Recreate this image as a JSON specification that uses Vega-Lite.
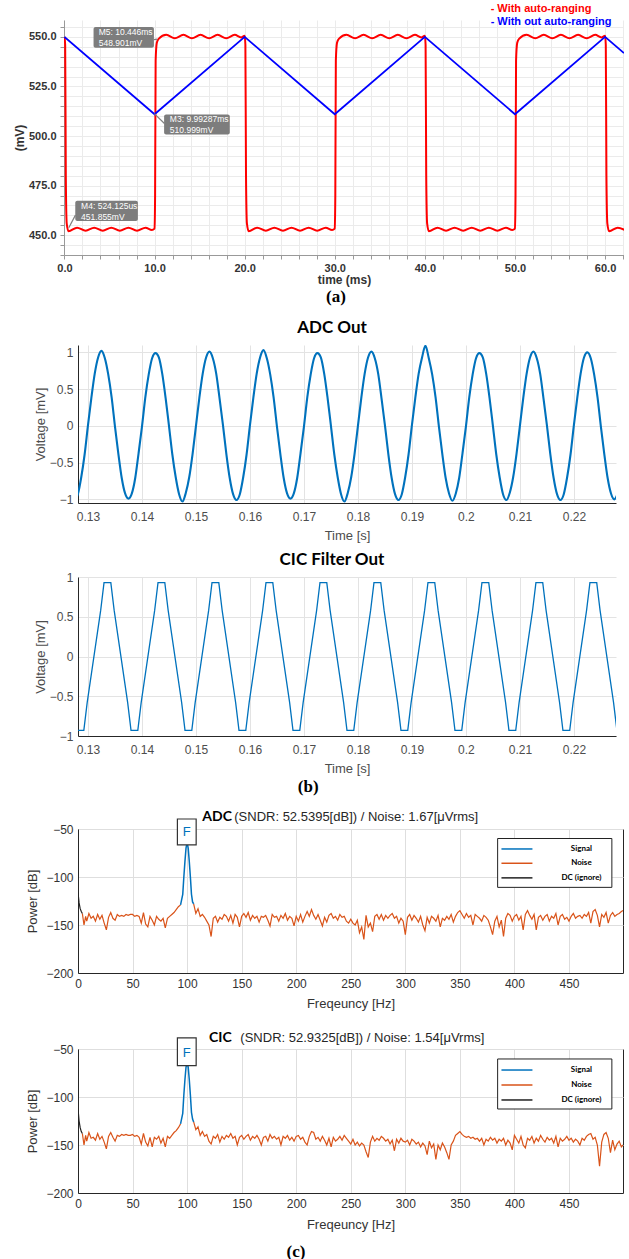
{
"$schema": "https://vega.github.io/schema/vega-lite/v6.json",
"padding": {"left": 13, "top": 3, "right": 0, "bottom": 0},
"background": "white",
"config": {"font": "Liberation Sans", "view": {"stroke": null}},
"datasets": {
"red": [{"x":0,"y":550},{"x":0.08,"y":546},{"x":0.15,"y":480},{"x":0.25,"y":456},{"x":0.45,"y":452},{"x":1.4,"y":453.8},{"x":2.35,"y":452.2},{"x":3.3,"y":453.8},{"x":4.25,"y":452.2},{"x":5.2,"y":453.8},{"x":6.15,"y":452.2},{"x":7.1,"y":453.8},{"x":8.05,"y":452.2},{"x":9.0,"y":453.8},{"x":9.7,"y":452.6},{"x":10.0,"y":453.3},{"x":10.06,"y":470},{"x":10.12,"y":538},{"x":10.25,"y":547},{"x":10.45,"y":549},{"x":11.3,"y":551},{"x":12.25,"y":549.3},{"x":13.2,"y":551},{"x":14.15,"y":549.3},{"x":15.1,"y":551},{"x":16.05,"y":549.3},{"x":17.0,"y":551},{"x":17.95,"y":549.3},{"x":18.9,"y":551},{"x":19.6,"y":549.7},{"x":20.0,"y":550.5},
{"x":20.08,"y":546},{"x":20.15,"y":480},{"x":20.25,"y":456},{"x":20.45,"y":452},{"x":21.4,"y":453.8},{"x":22.35,"y":452.2},{"x":23.3,"y":453.8},{"x":24.25,"y":452.2},{"x":25.2,"y":453.8},{"x":26.15,"y":452.2},{"x":27.1,"y":453.8},{"x":28.05,"y":452.2},{"x":29.0,"y":453.8},{"x":29.7,"y":452.6},{"x":30.0,"y":453.3},{"x":30.06,"y":470},{"x":30.12,"y":538},{"x":30.25,"y":547},{"x":30.45,"y":549},{"x":31.3,"y":551},{"x":32.25,"y":549.3},{"x":33.2,"y":551},{"x":34.15,"y":549.3},{"x":35.1,"y":551},{"x":36.05,"y":549.3},{"x":37.0,"y":551},{"x":37.95,"y":549.3},{"x":38.9,"y":551},{"x":39.6,"y":549.7},{"x":40.0,"y":550.5},
{"x":40.08,"y":546},{"x":40.15,"y":480},{"x":40.25,"y":456},{"x":40.45,"y":452},{"x":41.4,"y":453.8},{"x":42.35,"y":452.2},{"x":43.3,"y":453.8},{"x":44.25,"y":452.2},{"x":45.2,"y":453.8},{"x":46.15,"y":452.2},{"x":47.1,"y":453.8},{"x":48.05,"y":452.2},{"x":49.0,"y":453.8},{"x":49.7,"y":452.6},{"x":50.0,"y":453.3},{"x":50.06,"y":470},{"x":50.12,"y":538},{"x":50.25,"y":547},{"x":50.45,"y":549},{"x":51.3,"y":551},{"x":52.25,"y":549.3},{"x":53.2,"y":551},{"x":54.15,"y":549.3},{"x":55.1,"y":551},{"x":56.05,"y":549.3},{"x":57.0,"y":551},{"x":57.95,"y":549.3},{"x":58.9,"y":551},{"x":59.6,"y":549.7},{"x":60.0,"y":550.5},
{"x":60.08,"y":546},{"x":60.15,"y":480},{"x":60.25,"y":456},{"x":60.45,"y":452},{"x":61.4,"y":453.8},{"x":62.35,"y":452.2}],
"blue": [{"x":0,"y":550},{"x":10,"y":511},{"x":20,"y":550},{"x":30,"y":511},{"x":40,"y":550},{"x":50,"y":511},{"x":60,"y":550},{"x":62.1,"y":541.8}],
"mbox": [{"x":3.23,"x2":9.93,"y":544.5,"y2":555.0},{"x":11.06,"x2":18.35,"y":500.8,"y2":510.8},{"x":1.2,"x2":8.15,"y":457.1,"y2":467.3}],
"mlead": [{"x":9.93,"x2":10.3,"y":548.6,"y2":548.9},{"x":9.97,"x2":11.1,"y":511.3,"y2":506.3},{"x":0.48,"x2":1.22,"y":453.7,"y2":460.1}],
"mtext": [{"x":3.8,"y":552.4,"s":"M5: 10.446ms"},{"x":3.8,"y":547.1,"s":"548.901mV"},{"x":11.7,"y":508.4,"s":"M3: 9.99287ms"},{"x":11.7,"y":503.0,"s":"510.999mV"},{"x":1.85,"y":464.6,"s":"M4: 524.125us"},{"x":1.85,"y":459.4,"s":"451.855mV"}],
"aleg": [{"x":47.3,"y":563.9,"s":"- With auto-ranging","c":"#ff0000"},{"x":47.3,"y":557.6,"s":"- With out auto-ranging","c":"#0000ff"}],
"adc": [{"x":0.1275,"y":-1.01},{"x":0.128125,"y":-0.93},{"x":0.12875,"y":-0.70},{"x":0.129375,"y":-0.39},{"x":0.13,"y":0.01},{"x":0.130625,"y":0.38},{"x":0.13125,"y":0.71},{"x":0.131875,"y":0.93},{"x":0.1325,"y":1.02},{"x":0.133125,"y":0.92},{"x":0.13375,"y":0.70},{"x":0.134375,"y":0.39},{"x":0.135,"y":-0.01},{"x":0.135625,"y":-0.38},{"x":0.13625,"y":-0.71},{"x":0.136875,"y":-0.92},
{"x":0.1375,"y":-0.99},{"x":0.138125,"y":-0.92},{"x":0.13875,"y":-0.71},{"x":0.139375,"y":-0.37},{"x":0.14,"y":-0.01},{"x":0.140625,"y":0.39},{"x":0.14125,"y":0.70},{"x":0.141875,"y":0.92},{"x":0.1425,"y":0.99},{"x":0.143125,"y":0.93},{"x":0.14375,"y":0.71},{"x":0.144375,"y":0.38},{"x":0.145,"y":0.00},{"x":0.145625,"y":-0.39},{"x":0.14625,"y":-0.70},{"x":0.146875,"y":-0.93},
{"x":0.1475,"y":-1.03},{"x":0.148125,"y":-0.91},{"x":0.14875,"y":-0.70},{"x":0.149375,"y":-0.38},{"x":0.15,"y":0.00},{"x":0.150625,"y":0.38},{"x":0.15125,"y":0.71},{"x":0.151875,"y":0.93},{"x":0.1525,"y":1.01},{"x":0.153125,"y":0.92},{"x":0.15375,"y":0.71},{"x":0.154375,"y":0.37},{"x":0.155,"y":0.01},{"x":0.155625,"y":-0.38},{"x":0.15625,"y":-0.71},{"x":0.156875,"y":-0.93},
{"x":0.1575,"y":-1.01},{"x":0.158125,"y":-0.93},{"x":0.15875,"y":-0.70},{"x":0.159375,"y":-0.39},{"x":0.16,"y":0.01},{"x":0.160625,"y":0.38},{"x":0.16125,"y":0.71},{"x":0.161875,"y":0.93},{"x":0.1625,"y":1.03},{"x":0.163125,"y":0.92},{"x":0.16375,"y":0.70},{"x":0.164375,"y":0.39},{"x":0.165,"y":-0.01},{"x":0.165625,"y":-0.38},{"x":0.16625,"y":-0.71},{"x":0.166875,"y":-0.92},
{"x":0.1675,"y":-0.99},{"x":0.168125,"y":-0.92},{"x":0.16875,"y":-0.71},{"x":0.169375,"y":-0.37},{"x":0.17,"y":-0.01},{"x":0.170625,"y":0.39},{"x":0.17125,"y":0.70},{"x":0.171875,"y":0.92},{"x":0.1725,"y":0.99},{"x":0.173125,"y":0.93},{"x":0.17375,"y":0.71},{"x":0.174375,"y":0.38},{"x":0.175,"y":0.00},{"x":0.175625,"y":-0.39},{"x":0.17625,"y":-0.70},{"x":0.176875,"y":-0.93},
{"x":0.1775,"y":-1.03},{"x":0.178125,"y":-0.91},{"x":0.17875,"y":-0.70},{"x":0.179375,"y":-0.38},{"x":0.18,"y":0.00},{"x":0.180625,"y":0.38},{"x":0.18125,"y":0.71},{"x":0.181875,"y":0.93},{"x":0.1825,"y":1.01},{"x":0.183125,"y":0.92},{"x":0.18375,"y":0.71},{"x":0.184375,"y":0.37},{"x":0.185,"y":0.01},{"x":0.185625,"y":-0.38},{"x":0.18625,"y":-0.71},{"x":0.186875,"y":-0.93},
{"x":0.1875,"y":-1.01},{"x":0.188125,"y":-0.93},{"x":0.18875,"y":-0.70},{"x":0.189375,"y":-0.39},{"x":0.19,"y":0.01},{"x":0.190625,"y":0.38},{"x":0.19125,"y":0.71},{"x":0.191875,"y":0.93},{"x":0.1925,"y":1.09},{"x":0.193125,"y":0.92},{"x":0.19375,"y":0.70},{"x":0.194375,"y":0.39},{"x":0.195,"y":-0.01},{"x":0.195625,"y":-0.38},{"x":0.19625,"y":-0.71},{"x":0.196875,"y":-0.92},
{"x":0.1975,"y":-1.02},{"x":0.198125,"y":-0.92},{"x":0.19875,"y":-0.71},{"x":0.199375,"y":-0.37},{"x":0.2,"y":-0.01},{"x":0.200625,"y":0.39},{"x":0.20125,"y":0.70},{"x":0.201875,"y":0.92},{"x":0.2025,"y":0.99},{"x":0.203125,"y":0.93},{"x":0.20375,"y":0.71},{"x":0.204375,"y":0.38},{"x":0.205,"y":0.00},{"x":0.205625,"y":-0.39},{"x":0.20625,"y":-0.70},{"x":0.206875,"y":-0.93},
{"x":0.2075,"y":-1.01},{"x":0.208125,"y":-0.91},{"x":0.20875,"y":-0.70},{"x":0.209375,"y":-0.38},{"x":0.21,"y":0.00},{"x":0.210625,"y":0.38},{"x":0.21125,"y":0.71},{"x":0.211875,"y":0.93},{"x":0.2125,"y":1.01},{"x":0.213125,"y":0.92},{"x":0.21375,"y":0.71},{"x":0.214375,"y":0.37},{"x":0.215,"y":0.01},{"x":0.215625,"y":-0.38},{"x":0.21625,"y":-0.71},{"x":0.216875,"y":-0.93},
{"x":0.2175,"y":-1.01},{"x":0.218125,"y":-0.93},{"x":0.21875,"y":-0.70},{"x":0.219375,"y":-0.39},{"x":0.22,"y":0.01},{"x":0.220625,"y":0.38},{"x":0.22125,"y":0.71},{"x":0.221875,"y":0.93},{"x":0.2225,"y":1.0},{"x":0.223125,"y":0.92},{"x":0.22375,"y":0.70},{"x":0.224375,"y":0.39},{"x":0.225,"y":-0.01},{"x":0.225625,"y":-0.38},{"x":0.22625,"y":-0.71},{"x":0.226875,"y":-0.92},
{"x":0.2275,"y":-1.0},{"x":0.228125,"y":-0.92}],
"cic": [{"x":0.12735,"y":-0.58},{"x":0.12797,"y":-0.93},{"x":0.12923,"y":-0.93},{"x":0.12985,"y":-0.58},{"x":0.13235,"y":0.58},{"x":0.13297,"y":0.93},{"x":0.13423,"y":0.93},{"x":0.13485,"y":0.58},
{"x":0.13735,"y":-0.58},{"x":0.13797,"y":-0.93},{"x":0.13923,"y":-0.93},{"x":0.13985,"y":-0.58},{"x":0.14235,"y":0.58},{"x":0.14297,"y":0.93},{"x":0.14423,"y":0.93},{"x":0.14485,"y":0.58},
{"x":0.14735,"y":-0.58},{"x":0.14797,"y":-0.93},{"x":0.14923,"y":-0.93},{"x":0.14985,"y":-0.58},{"x":0.15235,"y":0.58},{"x":0.15297,"y":0.93},{"x":0.15423,"y":0.93},{"x":0.15485,"y":0.58},
{"x":0.15735,"y":-0.58},{"x":0.15797,"y":-0.93},{"x":0.15923,"y":-0.93},{"x":0.15985,"y":-0.58},{"x":0.16235,"y":0.58},{"x":0.16297,"y":0.93},{"x":0.16423,"y":0.93},{"x":0.16485,"y":0.58},
{"x":0.16735,"y":-0.58},{"x":0.16797,"y":-0.93},{"x":0.16923,"y":-0.93},{"x":0.16985,"y":-0.58},{"x":0.17235,"y":0.58},{"x":0.17297,"y":0.93},{"x":0.17423,"y":0.93},{"x":0.17485,"y":0.58},
{"x":0.17735,"y":-0.58},{"x":0.17797,"y":-0.93},{"x":0.17923,"y":-0.93},{"x":0.17985,"y":-0.58},{"x":0.18235,"y":0.58},{"x":0.18297,"y":0.93},{"x":0.18423,"y":0.93},{"x":0.18485,"y":0.58},
{"x":0.18735,"y":-0.58},{"x":0.18797,"y":-0.93},{"x":0.18923,"y":-0.93},{"x":0.18985,"y":-0.58},{"x":0.19235,"y":0.58},{"x":0.19297,"y":0.93},{"x":0.19423,"y":0.93},{"x":0.19485,"y":0.58},
{"x":0.19735,"y":-0.58},{"x":0.19797,"y":-0.93},{"x":0.19923,"y":-0.93},{"x":0.19985,"y":-0.58},{"x":0.20235,"y":0.58},{"x":0.20297,"y":0.93},{"x":0.20423,"y":0.93},{"x":0.20485,"y":0.58},
{"x":0.20735,"y":-0.58},{"x":0.20797,"y":-0.93},{"x":0.20923,"y":-0.93},{"x":0.20985,"y":-0.58},{"x":0.21235,"y":0.58},{"x":0.21297,"y":0.93},{"x":0.21423,"y":0.93},{"x":0.21485,"y":0.58},
{"x":0.21735,"y":-0.58},{"x":0.21797,"y":-0.93},{"x":0.21923,"y":-0.93},{"x":0.21985,"y":-0.58},{"x":0.22235,"y":0.58},{"x":0.22297,"y":0.93},{"x":0.22423,"y":0.93},{"x":0.22485,"y":0.58},
{"x":0.22735,"y":-0.58},{"x":0.22797,"y":-0.93}],
"adcD": [{"x":0,"y":-116},{"x":1,"y":-127},{"x":2,"y":-133},{"x":3,"y":-136},{"x":4,"y":-138}],
"adcN1": [{"x":4,"y":-138},{"x":5.5,"y":-150},{"x":7,"y":-141},{"x":8,"y":-146},{"x":10,"y":-138},{"x":12,"y":-143},{"x":14,"y":-141},{"x":16,"y":-146},{"x":18,"y":-139},{"x":20,"y":-144},{"x":22,"y":-140},{"x":24,"y":-148},{"x":26,"y":-155},{"x":28,"y":-142},{"x":30,"y":-137},{"x":32,"y":-143},{"x":34,"y":-145},{"x":36,"y":-139},{"x":38,"y":-141},{"x":40,"y":-140},{"x":42,"y":-141},{"x":44,"y":-139},{"x":46,"y":-140},{"x":48,"y":-139},{"x":50,"y":-139},{"x":52,"y":-141},{"x":54,"y":-140},{"x":56,"y":-141},{"x":58,"y":-148},{"x":60,"y":-137},{"x":62,"y":-149},{"x":64,"y":-152},{"x":66,"y":-141},{"x":68,"y":-145},{"x":70,"y":-150},{"x":72,"y":-141},{"x":74,"y":-144},{"x":76,"y":-146},{"x":78,"y":-143},{"x":80,"y":-153},{"x":82,"y":-143},{"x":84,"y":-141},{"x":86,"y":-139},{"x":88,"y":-137},{"x":90,"y":-134},{"x":92,"y":-131},{"x":94,"y":-129}],
"adcS": [{"x":94,"y":-129},{"x":96,"y":-118},{"x":97,"y":-100},{"x":98,"y":-84},{"x":99,"y":-70},{"x":100,"y":-64},{"x":101,"y":-70},{"x":102,"y":-84},{"x":103,"y":-100},{"x":104,"y":-118},{"x":105,"y":-126},{"x":106,"y":-128}],
"adcN2": [{"x":106,"y":-128},{"x":108,"y":-138},{"x":110,"y":-133},{"x":112,"y":-141},{"x":114,"y":-139},{"x":116,"y":-142},{"x":118,"y":-146},{"x":120,"y":-150},{"x":122,"y":-162},{"x":124,"y":-143},{"x":126,"y":-141},{"x":128,"y":-147},{"x":130,"y":-142},{"x":132,"y":-144},{"x":134,"y":-139},{"x":136,"y":-141},{"x":138,"y":-146},{"x":140,"y":-140},{"x":142,"y":-148},{"x":144,"y":-139},{"x":146,"y":-142},{"x":148,"y":-152},{"x":150,"y":-141},{"x":152,"y":-138},{"x":154,"y":-142},{"x":156,"y":-137},{"x":158,"y":-145},{"x":160,"y":-140},{"x":162,"y":-143},{"x":164,"y":-141},{"x":166,"y":-147},{"x":168,"y":-141},{"x":170,"y":-142},{"x":172,"y":-140},{"x":174,"y":-145},{"x":176,"y":-151},{"x":178,"y":-139},{"x":180,"y":-142},{"x":182,"y":-141},{"x":184,"y":-146},{"x":186,"y":-140},{"x":188,"y":-143},{"x":190,"y":-138},{"x":192,"y":-145},{"x":194,"y":-141},{"x":196,"y":-143},{"x":198,"y":-151},{"x":200,"y":-141},{"x":202,"y":-146},{"x":204,"y":-139},{"x":206,"y":-147},{"x":208,"y":-141},{"x":210,"y":-136},{"x":212,"y":-141},{"x":214,"y":-134},{"x":216,"y":-140},{"x":218,"y":-144},{"x":220,"y":-139},{"x":222,"y":-145},{"x":224,"y":-151},{"x":226,"y":-142},{"x":228,"y":-147},{"x":230,"y":-140},{"x":232,"y":-138},{"x":234,"y":-143},{"x":236,"y":-141},{"x":238,"y":-145},{"x":240,"y":-139},{"x":242,"y":-142},{"x":244,"y":-141},{"x":246,"y":-146},{"x":248,"y":-148},{"x":250,"y":-144},{"x":252,"y":-148},{"x":254,"y":-150},{"x":256,"y":-145},{"x":258,"y":-158},{"x":260,"y":-152},{"x":262,"y":-165},{"x":264,"y":-140},{"x":266,"y":-152},{"x":268,"y":-148},{"x":270,"y":-157},{"x":272,"y":-141},{"x":274,"y":-139},{"x":276,"y":-144},{"x":278,"y":-139},{"x":280,"y":-145},{"x":282,"y":-140},{"x":284,"y":-143},{"x":286,"y":-140},{"x":288,"y":-138},{"x":290,"y":-143},{"x":292,"y":-141},{"x":294,"y":-148},{"x":296,"y":-143},{"x":298,"y":-146},{"x":300,"y":-160},{"x":302,"y":-142},{"x":304,"y":-139},{"x":306,"y":-145},{"x":308,"y":-140},{"x":310,"y":-143},{"x":312,"y":-147},{"x":314,"y":-141},{"x":316,"y":-150},{"x":318,"y":-156},{"x":320,"y":-142},{"x":322,"y":-148},{"x":324,"y":-141},{"x":326,"y":-143},{"x":328,"y":-146},{"x":330,"y":-140},{"x":332,"y":-152},{"x":334,"y":-143},{"x":336,"y":-145},{"x":338,"y":-141},{"x":340,"y":-144},{"x":342,"y":-139},{"x":344,"y":-147},{"x":346,"y":-141},{"x":348,"y":-137},{"x":350,"y":-135},{"x":352,"y":-139},{"x":354,"y":-143},{"x":356,"y":-138},{"x":358,"y":-142},{"x":360,"y":-140},{"x":362,"y":-150},{"x":364,"y":-139},{"x":366,"y":-141},{"x":368,"y":-143},{"x":370,"y":-146},{"x":372,"y":-140},{"x":374,"y":-142},{"x":376,"y":-145},{"x":378,"y":-152},{"x":380,"y":-160},{"x":382,"y":-146},{"x":384,"y":-141},{"x":386,"y":-152},{"x":388,"y":-145},{"x":390,"y":-162},{"x":392,"y":-143},{"x":394,"y":-138},{"x":396,"y":-140},{"x":398,"y":-146},{"x":400,"y":-141},{"x":402,"y":-139},{"x":404,"y":-145},{"x":406,"y":-141},{"x":408,"y":-155},{"x":410,"y":-139},{"x":412,"y":-135},{"x":414,"y":-140},{"x":416,"y":-144},{"x":418,"y":-139},{"x":420,"y":-155},{"x":422,"y":-142},{"x":424,"y":-140},{"x":426,"y":-145},{"x":428,"y":-141},{"x":430,"y":-139},{"x":432,"y":-146},{"x":434,"y":-141},{"x":436,"y":-143},{"x":438,"y":-138},{"x":440,"y":-150},{"x":442,"y":-141},{"x":444,"y":-139},{"x":446,"y":-144},{"x":448,"y":-142},{"x":450,"y":-146},{"x":452,"y":-141},{"x":454,"y":-138},{"x":456,"y":-143},{"x":458,"y":-141},{"x":460,"y":-140},{"x":462,"y":-143},{"x":464,"y":-139},{"x":466,"y":-141},{"x":468,"y":-137},{"x":470,"y":-148},{"x":472,"y":-136},{"x":474,"y":-134},{"x":476,"y":-140},{"x":478,"y":-152},{"x":480,"y":-139},{"x":482,"y":-142},{"x":484,"y":-137},{"x":486,"y":-148},{"x":488,"y":-140},{"x":490,"y":-137},{"x":492,"y":-141},{"x":494,"y":-139},{"x":496,"y":-138},{"x":498,"y":-136},{"x":499.5,"y":-135}],
"cicD": [{"x":0,"y":-112},{"x":1,"y":-125},{"x":2,"y":-132},{"x":3,"y":-136},{"x":4,"y":-138}],
"cicN1": [{"x":4,"y":-138},{"x":5.5,"y":-150},{"x":7,"y":-140},{"x":8,"y":-146},{"x":10,"y":-137},{"x":12,"y":-143},{"x":14,"y":-142},{"x":16,"y":-145},{"x":18,"y":-138},{"x":20,"y":-144},{"x":22,"y":-141},{"x":24,"y":-147},{"x":26,"y":-154},{"x":28,"y":-141},{"x":30,"y":-137},{"x":32,"y":-142},{"x":34,"y":-146},{"x":36,"y":-140},{"x":38,"y":-141},{"x":40,"y":-139},{"x":42,"y":-140},{"x":44,"y":-139},{"x":46,"y":-140},{"x":48,"y":-140},{"x":50,"y":-139},{"x":52,"y":-141},{"x":54,"y":-140},{"x":56,"y":-142},{"x":58,"y":-149},{"x":60,"y":-138},{"x":62,"y":-147},{"x":64,"y":-151},{"x":66,"y":-142},{"x":68,"y":-152},{"x":70,"y":-142},{"x":72,"y":-144},{"x":74,"y":-141},{"x":76,"y":-148},{"x":78,"y":-143},{"x":80,"y":-152},{"x":82,"y":-141},{"x":84,"y":-143},{"x":86,"y":-140},{"x":88,"y":-137},{"x":90,"y":-135},{"x":92,"y":-132},{"x":94,"y":-128}],
"cicS": [{"x":94,"y":-128},{"x":96,"y":-117},{"x":97,"y":-98},{"x":98,"y":-82},{"x":99,"y":-69},{"x":100,"y":-64},{"x":101,"y":-69},{"x":102,"y":-82},{"x":103,"y":-98},{"x":104,"y":-116},{"x":105,"y":-123},{"x":106,"y":-126}],
"cicN2": [{"x":106,"y":-126},{"x":108,"y":-134},{"x":110,"y":-131},{"x":112,"y":-140},{"x":114,"y":-136},{"x":116,"y":-141},{"x":118,"y":-139},{"x":120,"y":-146},{"x":122,"y":-149},{"x":124,"y":-141},{"x":126,"y":-143},{"x":128,"y":-139},{"x":130,"y":-147},{"x":132,"y":-141},{"x":134,"y":-144},{"x":136,"y":-140},{"x":138,"y":-142},{"x":140,"y":-138},{"x":142,"y":-143},{"x":144,"y":-141},{"x":146,"y":-150},{"x":148,"y":-142},{"x":150,"y":-140},{"x":152,"y":-144},{"x":154,"y":-141},{"x":156,"y":-139},{"x":158,"y":-145},{"x":160,"y":-141},{"x":162,"y":-143},{"x":164,"y":-140},{"x":166,"y":-144},{"x":168,"y":-150},{"x":170,"y":-142},{"x":172,"y":-141},{"x":174,"y":-146},{"x":176,"y":-139},{"x":178,"y":-143},{"x":180,"y":-141},{"x":182,"y":-144},{"x":184,"y":-142},{"x":186,"y":-150},{"x":188,"y":-141},{"x":190,"y":-143},{"x":192,"y":-140},{"x":194,"y":-145},{"x":196,"y":-142},{"x":198,"y":-146},{"x":200,"y":-141},{"x":202,"y":-140},{"x":204,"y":-144},{"x":206,"y":-142},{"x":208,"y":-147},{"x":210,"y":-150},{"x":212,"y":-141},{"x":214,"y":-136},{"x":216,"y":-137},{"x":218,"y":-144},{"x":220,"y":-142},{"x":222,"y":-146},{"x":224,"y":-141},{"x":226,"y":-145},{"x":228,"y":-150},{"x":230,"y":-143},{"x":232,"y":-152},{"x":234,"y":-142},{"x":236,"y":-146},{"x":238,"y":-144},{"x":240,"y":-141},{"x":242,"y":-145},{"x":244,"y":-140},{"x":246,"y":-143},{"x":248,"y":-146},{"x":250,"y":-149},{"x":252,"y":-144},{"x":254,"y":-150},{"x":256,"y":-147},{"x":258,"y":-151},{"x":260,"y":-148},{"x":262,"y":-150},{"x":264,"y":-157},{"x":266,"y":-163},{"x":268,"y":-147},{"x":270,"y":-141},{"x":272,"y":-146},{"x":274,"y":-143},{"x":276,"y":-145},{"x":278,"y":-141},{"x":280,"y":-143},{"x":282,"y":-146},{"x":284,"y":-144},{"x":286,"y":-149},{"x":288,"y":-145},{"x":290,"y":-156},{"x":292,"y":-144},{"x":294,"y":-148},{"x":296,"y":-143},{"x":298,"y":-146},{"x":300,"y":-147},{"x":302,"y":-145},{"x":304,"y":-150},{"x":306,"y":-144},{"x":308,"y":-146},{"x":310,"y":-149},{"x":312,"y":-147},{"x":314,"y":-152},{"x":316,"y":-148},{"x":318,"y":-151},{"x":320,"y":-160},{"x":322,"y":-146},{"x":324,"y":-153},{"x":326,"y":-149},{"x":328,"y":-165},{"x":330,"y":-150},{"x":332,"y":-155},{"x":334,"y":-148},{"x":336,"y":-152},{"x":338,"y":-158},{"x":340,"y":-165},{"x":342,"y":-150},{"x":344,"y":-146},{"x":346,"y":-140},{"x":348,"y":-138},{"x":350,"y":-136},{"x":352,"y":-139},{"x":354,"y":-141},{"x":356,"y":-142},{"x":358,"y":-141},{"x":360,"y":-143},{"x":362,"y":-142},{"x":364,"y":-144},{"x":366,"y":-143},{"x":368,"y":-146},{"x":370,"y":-143},{"x":372,"y":-150},{"x":374,"y":-144},{"x":376,"y":-146},{"x":378,"y":-142},{"x":380,"y":-145},{"x":382,"y":-143},{"x":384,"y":-148},{"x":386,"y":-144},{"x":388,"y":-146},{"x":390,"y":-143},{"x":392,"y":-150},{"x":394,"y":-145},{"x":396,"y":-148},{"x":398,"y":-155},{"x":400,"y":-140},{"x":402,"y":-144},{"x":404,"y":-148},{"x":406,"y":-141},{"x":408,"y":-150},{"x":410,"y":-153},{"x":412,"y":-143},{"x":414,"y":-145},{"x":416,"y":-141},{"x":418,"y":-148},{"x":420,"y":-143},{"x":422,"y":-146},{"x":424,"y":-140},{"x":426,"y":-144},{"x":428,"y":-147},{"x":430,"y":-142},{"x":432,"y":-145},{"x":434,"y":-143},{"x":436,"y":-148},{"x":438,"y":-141},{"x":440,"y":-152},{"x":442,"y":-143},{"x":444,"y":-146},{"x":446,"y":-144},{"x":448,"y":-141},{"x":450,"y":-145},{"x":452,"y":-143},{"x":454,"y":-147},{"x":456,"y":-144},{"x":458,"y":-146},{"x":460,"y":-150},{"x":462,"y":-143},{"x":464,"y":-145},{"x":466,"y":-141},{"x":468,"y":-139},{"x":470,"y":-138},{"x":472,"y":-144},{"x":474,"y":-142},{"x":476,"y":-150},{"x":478,"y":-172},{"x":480,"y":-147},{"x":482,"y":-139},{"x":484,"y":-137},{"x":486,"y":-143},{"x":488,"y":-158},{"x":490,"y":-145},{"x":492,"y":-155},{"x":494,"y":-149},{"x":496,"y":-146},{"x":498,"y":-152},{"x":499.5,"y":-150}],
"adcF": [{"x":91.1,"x2":108.3,"y":-39.6,"y2":-66.6,"s":"F","ty":-53.5}],
"cicF": [{"x":91.1,"x2":108.3,"y":-38.5,"y2":-67.4,"s":"F","ty":-54.5}],
"adcT1": [{"x":113.9,"y":-37.5,"s":"ADC"}],
"adcT2": [{"x":143.2,"y":-37.5,"s":"(SNDR: 52.5395[dB]) / Noise: 1.67[μVrms]"}],
"cicT1": [{"x":120.1,"y":-38.5,"s":"CIC"}],
"cicT2": [{"x":148.8,"y":-38.5,"s":"(SNDR: 52.9325[dB]) / Noise: 1.54[μVrms]"}],
"adcLB": [{"x":384.6,"x2":489.3,"y":-59.9,"y2":-110.8}],
"cicLB": [{"x":384.6,"x2":489.3,"y":-60.4,"y2":-112.5}],
"adcL": [{"x":388.1,"x2":416.5,"lx":461.4,"y":-70.8,"s":"Signal","c":"#0072BD"},{"x":388.1,"x2":416.5,"lx":461.4,"y":-85.7,"s":"Noise","c":"#D95319"},{"x":388.1,"x2":416.5,"lx":461.4,"y":-100.9,"s":"DC (ignore)","c":"#222222"}],
"cicL": [{"x":388.1,"x2":416.5,"lx":461.4,"y":-71.9,"s":"Signal","c":"#0072BD"},{"x":388.1,"x2":416.5,"lx":461.4,"y":-87.5,"s":"Noise","c":"#D95319"},{"x":388.1,"x2":416.5,"lx":461.4,"y":-103.1,"s":"DC (ignore)","c":"#222222"}]
},
"concat": [
{
"width": 560, "height": 235,
"title": {"text": "(a)", "orient": "bottom", "anchor": "middle", "dx": -8, "font": "Liberation Serif", "fontSize": 17, "fontWeight": "bold", "color": "#000000", "offset": 4},
"layer": [
{"data": {"name": "red"}, "mark": {"type": "line", "color": "#ff0000", "strokeWidth": 2, "interpolate": "monotone", "clip": true},
"encoding": {
"x": {"field": "x", "type": "quantitative", "scale": {"domain": [-0.05, 62.1], "nice": false, "zero": false},
"axis": {"title": "time (ms)", "values": [0,2,4,6,8,10,12,14,16,18,20,22,24,26,28,30,32,34,36,38,40,42,44,46,48,50,52,54,56,58,60,62], "tickCount": 200, "labelExpr": "datum.value % 10 === 0 ? format(datum.value, '.1f') : ''", "labelOverlap": false, "labelFlush": false, "labelFontWeight": "bold", "labelFontSize": 11, "labelColor": "#333333", "titleFontWeight": "bold", "titleFontSize": 12, "titleColor": "#333333", "titlePadding": 1, "labelPadding": 3, "tickSize": 4, "tickColor": "#999999", "domainColor": "#999999", "gridColor": "#ebebeb"}},
"y": {"field": "y", "type": "quantitative", "scale": {"domain": [440, 558.5], "nice": false, "zero": false},
"axis": {"title": "(mV)", "values": [440,445,450,455,460,465,470,475,480,485,490,495,500,505,510,515,520,525,530,535,540,545,550,555], "tickCount": 200, "labelExpr": "datum.value % 25 === 0 ? format(datum.value, '.1f') : ''", "labelOverlap": false, "labelFontWeight": "bold", "labelFontSize": 11, "labelColor": "#333333", "titleFontWeight": "bold", "titleFontSize": 12, "titleColor": "#333333", "titlePadding": 2, "labelPadding": 4, "tickSize": 4, "tickColor": "#999999", "domainColor": "#999999", "gridColor": "#ebebeb"}}
}},
{"data": {"name": "blue"}, "mark": {"type": "line", "color": "#0000ff", "strokeWidth": 1.8, "clip": true},
"encoding": {"x": {"field": "x", "type": "quantitative"}, "y": {"field": "y", "type": "quantitative"}}},
{"data": {"name": "mlead"}, "mark": {"type": "rule", "color": "#808080", "strokeWidth": 1.2},
"encoding": {"x": {"field": "x", "type": "quantitative"}, "x2": {"field": "x2"}, "y": {"field": "y", "type": "quantitative"}, "y2": {"field": "y2"}}},
{"data": {"name": "mbox"}, "mark": {"type": "rect", "color": "#7d7d7d", "cornerRadius": 2},
"encoding": {"x": {"field": "x", "type": "quantitative"}, "x2": {"field": "x2"}, "y": {"field": "y", "type": "quantitative"}, "y2": {"field": "y2"}}},
{"data": {"name": "mtext"}, "mark": {"type": "text", "color": "#ffffff", "align": "left", "baseline": "middle", "fontSize": 8.5},
"encoding": {"x": {"field": "x", "type": "quantitative"}, "y": {"field": "y", "type": "quantitative"}, "text": {"field": "s"}}},
{"data": {"name": "aleg"}, "mark": {"type": "text", "align": "left", "baseline": "middle", "fontSize": 11, "fontWeight": "bold"},
"encoding": {"x": {"field": "x", "type": "quantitative"}, "y": {"field": "y", "type": "quantitative"}, "text": {"field": "s"}, "color": {"field": "c", "type": "nominal", "scale": null}}}
]
},
{
"hconcat": [
{"width": 13.6, "height": 10, "data": {"values": [{"k": 1}]}, "mark": {"type": "text", "opacity": 0}, "encoding": {}},
{
"concat": [
{
"width": 538, "height": 158,
"title": {"text": "ADC Out", "font": "Lato", "fontSize": 17, "fontWeight": "bold", "color": "#000000", "offset": 8, "dx": -15},
"data": {"name": "adc"},
"mark": {"type": "line", "color": "#0072BD", "strokeWidth": 2.1, "interpolate": "monotone", "clip": true},
"encoding": {
"x": {"field": "x", "type": "quantitative", "scale": {"domain": [0.12815, 0.2278], "nice": false, "zero": false},
"axis": {"title": "Time [s]", "values": [0.13,0.14,0.15,0.16,0.17,0.18,0.19,0.2,0.21,0.22], "tickCount": 100, "format": ".2~f", "labelFlush": false, "labelColor": "#4d4d4d", "labelFontSize": 12, "titleColor": "#4d4d4d", "titleFontSize": 13, "titleFontWeight": "normal", "labelPadding": 8, "titlePadding": 7, "ticks": false, "domainColor": "#262626", "gridColor": "#e3e3e3"}},
"y": {"field": "y", "type": "quantitative", "scale": {"domain": [-1.05, 1.1], "nice": false, "zero": false},
"axis": {"title": "Voltage [mV]", "values": [-1,-0.5,0,0.5,1], "tickCount": 100, "format": ".1~f", "labelColor": "#4d4d4d", "labelFontSize": 12, "titleColor": "#4d4d4d", "titleFontSize": 13, "titleFontWeight": "normal", "labelPadding": 5, "titlePadding": 2, "ticks": false, "domainColor": "#262626", "gridColor": "#e3e3e3"}}
}
},
{
"width": 538, "height": 159,
"title": {"text": "CIC Filter Out", "font": "Lato", "fontSize": 17, "fontWeight": "bold", "color": "#000000", "offset": 2, "dx": -15},
"data": {"name": "cic"},
"mark": {"type": "line", "color": "#0072BD", "strokeWidth": 1.3, "clip": true},
"encoding": {
"x": {"field": "x", "type": "quantitative", "scale": {"domain": [0.12815, 0.2278], "nice": false, "zero": false},
"axis": {"title": "Time [s]", "values": [0.13,0.14,0.15,0.16,0.17,0.18,0.19,0.2,0.21,0.22], "tickCount": 100, "format": ".2~f", "labelFlush": false, "labelColor": "#4d4d4d", "labelFontSize": 12, "titleColor": "#4d4d4d", "titleFontSize": 13, "titleFontWeight": "normal", "labelPadding": 8, "titlePadding": 7, "ticks": false, "domainColor": "#262626", "gridColor": "#e3e3e3"}},
"y": {"field": "y", "type": "quantitative", "scale": {"domain": [-1, 1], "nice": false, "zero": false},
"axis": {"title": "Voltage [mV]", "values": [-1,-0.5,0,0.5,1], "tickCount": 100, "format": ".1~f", "labelColor": "#4d4d4d", "labelFontSize": 12, "titleColor": "#4d4d4d", "titleFontSize": 13, "titleFontWeight": "normal", "labelPadding": 5, "titlePadding": 2, "ticks": false, "domainColor": "#262626", "gridColor": "#e3e3e3"}}
}
}
],
"columns": 1,
"spacing": 9,
"title": {"text": "(b)", "orient": "bottom", "anchor": "middle", "dx": -17, "font": "Liberation Serif", "fontSize": 17, "fontWeight": "bold", "color": "#000000", "offset": 4}
}
],
"spacing": 0,
"bounds": "flush"
},
{
"hconcat": [
{"width": 13.6, "height": 10, "data": {"values": [{"k": 1}]}, "mark": {"type": "text", "opacity": 0}, "encoding": {}},
{
"concat": [
{
"width": 545, "height": 144,
"view": {"stroke": "#262626"},
"layer": [
{"data": {"name": "adcN1"}, "mark": {"type": "line", "color": "#D95319", "strokeWidth": 1.2, "clip": true},
"encoding": {
"x": {"field": "x", "type": "quantitative", "scale": {"domain": [0, 499.5], "nice": false, "zero": false},
"axis": {"title": "Freqeuncy [Hz]", "values": [0,50,100,150,200,250,300,350,400,450], "tickCount": 100, "format": "d", "labelFlush": false, "labelColor": "#333333", "labelFontSize": 12, "titleColor": "#333333", "titleFontSize": 13, "titleFontWeight": "normal", "labelPadding": 5, "titlePadding": 8, "ticks": false, "domainColor": "#262626", "gridColor": "#dedede"}},
"y": {"field": "y", "type": "quantitative", "scale": {"domain": [-200, -50], "nice": false, "zero": false},
"axis": {"title": "Power  [dB]", "values": [-200,-150,-100,-50], "tickCount": 100, "format": "d", "labelColor": "#333333", "labelFontSize": 12, "titleColor": "#333333", "titleFontSize": 13, "titleFontWeight": "normal", "labelPadding": 5, "titlePadding": 6, "ticks": false, "domainColor": "#262626", "gridColor": "#dedede"}}
}},
{"data": {"name": "adcN2"}, "mark": {"type": "line", "color": "#D95319", "strokeWidth": 1.2, "clip": true},
"encoding": {"x": {"field": "x", "type": "quantitative"}, "y": {"field": "y", "type": "quantitative"}}},
{"data": {"name": "adcS"}, "mark": {"type": "line", "color": "#0072BD", "strokeWidth": 1.5, "clip": true},
"encoding": {"x": {"field": "x", "type": "quantitative"}, "y": {"field": "y", "type": "quantitative"}}},
{"data": {"name": "adcD"}, "mark": {"type": "line", "color": "#222222", "strokeWidth": 1.2, "clip": true},
"encoding": {"x": {"field": "x", "type": "quantitative"}, "y": {"field": "y", "type": "quantitative"}}},
{"data": {"name": "adcF"}, "mark": {"type": "rect", "fill": "#ffffff", "stroke": "#333333", "strokeWidth": 1.2},
"encoding": {"x": {"field": "x", "type": "quantitative"}, "x2": {"field": "x2"}, "y": {"field": "y", "type": "quantitative"}, "y2": {"field": "y2"}}},
{"data": {"name": "adcF"}, "mark": {"type": "text", "color": "#0072BD", "fontSize": 13, "align": "center", "baseline": "middle"},
"encoding": {"x": {"datum": 99.7, "type": "quantitative"}, "y": {"field": "ty", "type": "quantitative"}, "text": {"field": "s"}}},
{"data": {"name": "adcT1"}, "mark": {"type": "text", "font": "Lato", "fontSize": 14, "fontWeight": "bold", "color": "#000000", "align": "left", "baseline": "middle"},
"encoding": {"x": {"field": "x", "type": "quantitative"}, "y": {"field": "y", "type": "quantitative"}, "text": {"field": "s"}}},
{"data": {"name": "adcT2"}, "mark": {"type": "text", "fontSize": 13, "color": "#262626", "align": "left", "baseline": "middle"},
"encoding": {"x": {"field": "x", "type": "quantitative"}, "y": {"field": "y", "type": "quantitative"}, "text": {"field": "s"}}},
{"data": {"name": "adcLB"}, "mark": {"type": "rect", "fill": "#ffffff", "stroke": "#222222", "strokeWidth": 1},
"encoding": {"x": {"field": "x", "type": "quantitative"}, "x2": {"field": "x2"}, "y": {"field": "y", "type": "quantitative"}, "y2": {"field": "y2"}}},
{"data": {"name": "adcL"}, "mark": {"type": "rule", "strokeWidth": 1.5},
"encoding": {"x": {"field": "x", "type": "quantitative"}, "x2": {"field": "x2"}, "y": {"field": "y", "type": "quantitative"}, "color": {"field": "c", "type": "nominal", "scale": null}}},
{"data": {"name": "adcL"}, "mark": {"type": "text", "font": "Lato", "fontSize": 8, "fontWeight": "bold", "color": "#000000", "align": "center", "baseline": "middle"},
"encoding": {"x": {"field": "lx", "type": "quantitative"}, "y": {"field": "y", "type": "quantitative"}, "text": {"field": "s"}}}
]
},
{
"width": 545, "height": 144,
"view": {"stroke": "#262626"},
"layer": [
{"data": {"name": "cicN1"}, "mark": {"type": "line", "color": "#D95319", "strokeWidth": 1.2, "clip": true},
"encoding": {
"x": {"field": "x", "type": "quantitative", "scale": {"domain": [0, 499.5], "nice": false, "zero": false},
"axis": {"title": "Freqeuncy [Hz]", "values": [0,50,100,150,200,250,300,350,400,450], "tickCount": 100, "format": "d", "labelFlush": false, "labelColor": "#333333", "labelFontSize": 12, "titleColor": "#333333", "titleFontSize": 13, "titleFontWeight": "normal", "labelPadding": 5, "titlePadding": 9, "ticks": false, "domainColor": "#262626", "gridColor": "#dedede"}},
"y": {"field": "y", "type": "quantitative", "scale": {"domain": [-200, -50], "nice": false, "zero": false},
"axis": {"title": "Power  [dB]", "values": [-200,-150,-100,-50], "tickCount": 100, "format": "d", "labelColor": "#333333", "labelFontSize": 12, "titleColor": "#333333", "titleFontSize": 13, "titleFontWeight": "normal", "labelPadding": 5, "titlePadding": 6, "ticks": false, "domainColor": "#262626", "gridColor": "#dedede"}}
}},
{"data": {"name": "cicN2"}, "mark": {"type": "line", "color": "#D95319", "strokeWidth": 1.2, "clip": true},
"encoding": {"x": {"field": "x", "type": "quantitative"}, "y": {"field": "y", "type": "quantitative"}}},
{"data": {"name": "cicS"}, "mark": {"type": "line", "color": "#0072BD", "strokeWidth": 1.5, "clip": true},
"encoding": {"x": {"field": "x", "type": "quantitative"}, "y": {"field": "y", "type": "quantitative"}}},
{"data": {"name": "cicD"}, "mark": {"type": "line", "color": "#222222", "strokeWidth": 1.2, "clip": true},
"encoding": {"x": {"field": "x", "type": "quantitative"}, "y": {"field": "y", "type": "quantitative"}}},
{"data": {"name": "cicF"}, "mark": {"type": "rect", "fill": "#ffffff", "stroke": "#333333", "strokeWidth": 1.2},
"encoding": {"x": {"field": "x", "type": "quantitative"}, "x2": {"field": "x2"}, "y": {"field": "y", "type": "quantitative"}, "y2": {"field": "y2"}}},
{"data": {"name": "cicF"}, "mark": {"type": "text", "color": "#0072BD", "fontSize": 13, "align": "center", "baseline": "middle"},
"encoding": {"x": {"datum": 99.7, "type": "quantitative"}, "y": {"field": "ty", "type": "quantitative"}, "text": {"field": "s"}}},
{"data": {"name": "cicT1"}, "mark": {"type": "text", "font": "Lato", "fontSize": 14, "fontWeight": "bold", "color": "#000000", "align": "left", "baseline": "middle"},
"encoding": {"x": {"field": "x", "type": "quantitative"}, "y": {"field": "y", "type": "quantitative"}, "text": {"field": "s"}}},
{"data": {"name": "cicT2"}, "mark": {"type": "text", "fontSize": 13, "color": "#262626", "align": "left", "baseline": "middle"},
"encoding": {"x": {"field": "x", "type": "quantitative"}, "y": {"field": "y", "type": "quantitative"}, "text": {"field": "s"}}},
{"data": {"name": "cicLB"}, "mark": {"type": "rect", "fill": "#ffffff", "stroke": "#222222", "strokeWidth": 1},
"encoding": {"x": {"field": "x", "type": "quantitative"}, "x2": {"field": "x2"}, "y": {"field": "y", "type": "quantitative"}, "y2": {"field": "y2"}}},
{"data": {"name": "cicL"}, "mark": {"type": "rule", "strokeWidth": 1.5},
"encoding": {"x": {"field": "x", "type": "quantitative"}, "x2": {"field": "x2"}, "y": {"field": "y", "type": "quantitative"}, "color": {"field": "c", "type": "nominal", "scale": null}}},
{"data": {"name": "cicL"}, "mark": {"type": "text", "font": "Lato", "fontSize": 8, "fontWeight": "bold", "color": "#000000", "align": "center", "baseline": "middle"},
"encoding": {"x": {"field": "lx", "type": "quantitative"}, "y": {"field": "y", "type": "quantitative"}, "text": {"field": "s"}}}
]
}
],
"columns": 1,
"spacing": 19,
"title": {"text": "(c)", "orient": "bottom", "anchor": "middle", "dx": -29, "font": "Liberation Serif", "fontSize": 17, "fontWeight": "bold", "color": "#000000", "offset": 12}
}
],
"spacing": 0,
"bounds": "flush"
}
],
"columns": 1,
"spacing": 14
}
